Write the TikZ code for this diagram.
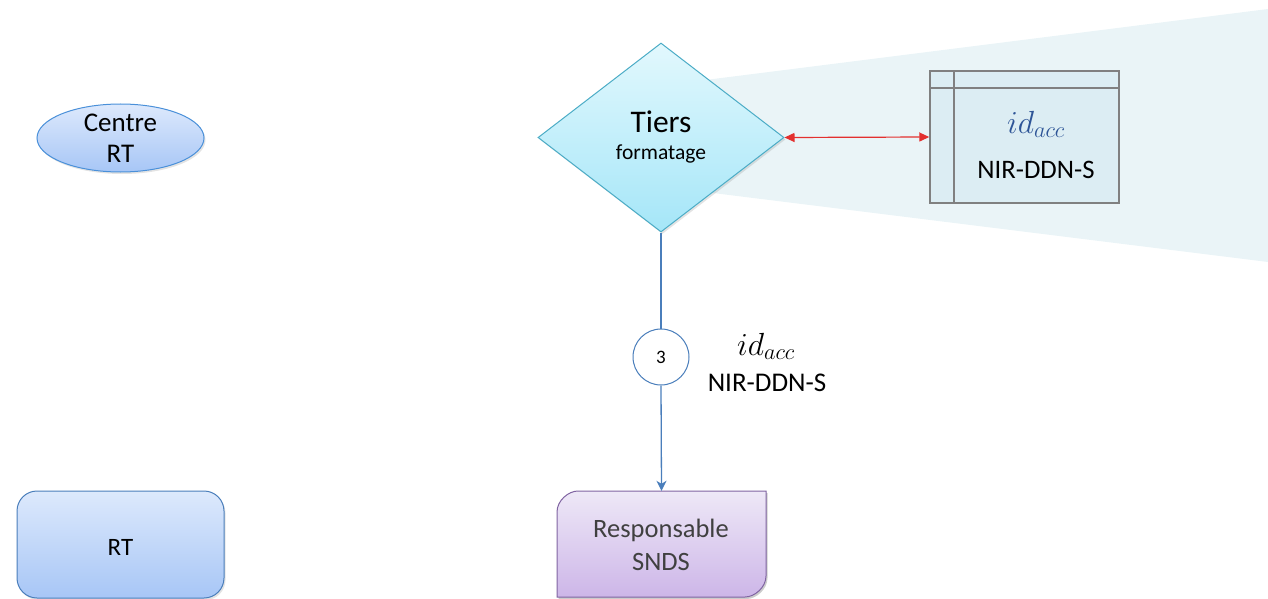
\RequirePackage{fix-cm}
\documentclass[tikz,border=0pt]{standalone}
\usepackage{fontspec}
\setmainfont{Carlito}
\usetikzlibrary{shapes.geometric,arrows.meta,shadows}
\definecolor{bgteal}{HTML}{EAF4F7}
\definecolor{tblfill}{HTML}{DCEDF3}
\definecolor{tblline}{HTML}{808080}
\definecolor{diaTop}{HTML}{E2F8FD}
\definecolor{diaBot}{HTML}{A5E6F8}
\definecolor{diaLine}{HTML}{4BACC6}
\definecolor{flowblue}{HTML}{4A7EBB}
\definecolor{arrowred}{HTML}{E3302F}
\definecolor{idblue}{HTML}{2E5597}
\definecolor{blueTop}{HTML}{DDE9FC}
\definecolor{blueBot}{HTML}{A7C6F6}
\definecolor{ellLine}{HTML}{4A90D9}
\definecolor{respTop}{HTML}{EEE8F7}
\definecolor{respBot}{HTML}{CDB6E8}
\definecolor{respLine}{HTML}{8064A2}
\definecolor{respText}{HTML}{404040}
\begin{document}
\begin{tikzpicture}[x=1pt,y=-1pt,
  lbl/.style={inner sep=0pt, anchor=base, text=black},
  flow/.style={draw=flowblue, line width=1.3pt},
  shadowed/.style={drop shadow={opacity=0.22, shadow xshift=1.5pt, shadow yshift=-2pt}}]
\useasboundingbox (0,0) rectangle (1268,599);

% light teal projection
\fill[bgteal] (680,83.2) -- (1268,9) -- (1268,262) -- (680,188.9) -- cycle;

% table
\node[rectangle, draw=tblline, line width=1.5pt, fill=tblfill, minimum width=189pt, minimum height=132pt, inner sep=0pt] (tbl) at (1024.5,137) {};
\draw[tblline, line width=1.5pt] (954,71) -- (954,203);
\draw[tblline, line width=1.5pt] (930,88) -- (1119,88);
\node[lbl, font=\fontsize{32}{38}\selectfont, text=idblue] (tblid) at (1036,133) {$id_{acc}$};
\node[lbl, font=\fontsize{26.7}{32}\selectfont] (tblnir) at (1036,178) {NIR-DDN-S};

% diamond
\node[diamond, draw=diaLine, line width=1pt, top color=diaTop, bottom color=diaBot, minimum width=246pt, minimum height=189pt, inner sep=0pt, shadowed] (tiers) at (661,137.5) {};
\node[lbl, font=\fontsize{31.5}{36}\selectfont] (tiersA) at (661,132) {Tiers};
\node[lbl, font=\fontsize{21.5}{25}\selectfont] (tiersB) at (661,159) {formatage};

% ellipse
\node[ellipse, draw=ellLine, line width=1pt, top color=blueTop, bottom color=blueBot, minimum width=167pt, minimum height=68pt, inner sep=0pt, shadowed] (centre) at (120.5,138) {};
\node[lbl, font=\fontsize{27}{32}\selectfont] (centreA) at (120.5,131.7) {Centre};
\node[lbl, font=\fontsize{27}{32}\selectfont] (centreB) at (120.5,162.7) {RT};

% RT box
\node[rectangle, rounded corners=20pt, draw=flowblue, line width=1pt, top color=blueTop, bottom color=blueBot, minimum width=207pt, minimum height=107pt, inner sep=0pt, shadowed] (rt) at (120.5,544.5) {};
\node[lbl, font=\fontsize{25}{30}\selectfont] (rtA) at (120.5,555) {RT};

% Responsable box
\fill[black, opacity=0.2, shift={(1.5,2)}] (557,597) -- (557,512) .. controls (557,500.4) and (568.6,491) .. (578,491) -- (766,491) -- (766,576) .. controls (766,587.6) and (754.4,597) .. (745,597) -- cycle;
\path[draw=respLine, line width=1pt, top color=respTop, bottom color=respBot]
  (557,597) -- (557,512) .. controls (557,500.4) and (568.6,491) .. (578,491) -- (766,491) -- (766,576) .. controls (766,587.6) and (754.4,597) .. (745,597) -- cycle;
\node[minimum width=209pt, minimum height=106pt, inner sep=0pt] (resp) at (661.5,544) {};
\node[lbl, text=respText, font=\fontsize{26.5}{32}\selectfont] (respA) at (661,537) {Responsable};
\node[lbl, text=respText, font=\fontsize{26.5}{32}\selectfont] (respB) at (661,570) {SNDS};

% step circle
\node[circle, draw=flowblue, line width=1pt, fill=white, minimum size=56pt, inner sep=0pt, font=\fontsize{19}{22}\selectfont] (step3) at (661,357) {3};
\node[lbl, font=\fontsize{32}{38}\selectfont] (lblid) at (766,355) {$id_{acc}$};
\node[lbl, font=\fontsize{27}{32}\selectfont] (lblnir) at (767,391) {NIR-DDN-S};

% connectors
\draw[flow] (tiers.south) -- (step3.north);
\draw[flow, -{Stealth[length=10pt,width=10pt,inset=3pt]}] (step3.south) -- (resp.north);
\draw[arrowred, line width=1.2pt, {Triangle[length=10pt,width=9pt]}-{Triangle[length=10pt,width=9pt]}] (tiers.east) -- (tbl.west);
\end{tikzpicture}
\end{document}
